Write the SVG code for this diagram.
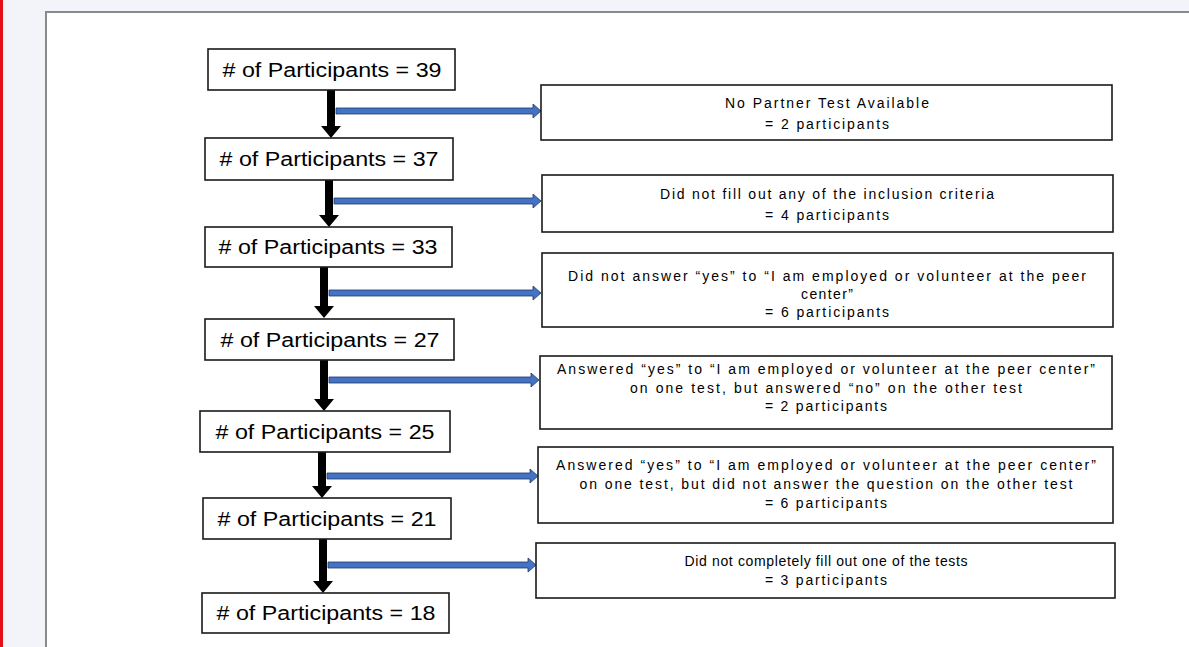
<svg xmlns="http://www.w3.org/2000/svg" width="1189" height="647" viewBox="0 0 1189 647">
<style>
.bg{fill:#f2f4f9}
.page{fill:#ffffff}
.box{fill:#ffffff;stroke:#1a1a1a;stroke-width:1.6}
.lt{font-family:"Liberation Sans",Arial,sans-serif;font-size:20px;fill:#000;text-anchor:middle}
.rt{font-family:"Liberation Sans",Arial,sans-serif;font-size:14px;fill:#000;text-anchor:middle}
.down{fill:#000}
.side{fill:#4472c4;stroke:#1f3864;stroke-width:0.8}
</style>
<rect class="bg" x="0" y="0" width="1189" height="647"/>
<rect x="0" y="0" width="3" height="647" fill="#e3101a"/>
<rect class="page" x="45" y="11" width="1144" height="636"/>
<path d="M46,647 V12 H1189" fill="none" stroke="#8a8a8a" stroke-width="2"/>

<g id="connectors">
  <g id="down-arrows">
    <polygon class="down" points="327,90 335,90 335,126 341,126 331,138 321,126 327,126"/>
    <polygon class="down" points="325,180 333,180 333,215 339,215 329,227 319,215 325,215"/>
    <polygon class="down" points="320,267 328,267 328,306 334,306 324,318 314,306 320,306"/>
    <polygon class="down" points="320,360 328,360 328,399 334,399 324,411 314,399 320,399"/>
    <polygon class="down" points="318,452 326,452 326,486 332,486 322,498 312,486 318,486"/>
    <polygon class="down" points="319,539 327,539 327,581 333,581 323,593 313,581 319,581"/>
  </g>
  <g id="side-arrows">
    <polygon class="side" points="336,108 533,108 533,104 541,111 533,118 533,114 336,114"/>
    <polygon class="side" points="334,198 533,198 533,194 541,201 533,208 533,204 334,204"/>
    <polygon class="side" points="329,290 533,290 533,286 541,293 533,300 533,296 329,296"/>
    <polygon class="side" points="329,377 531,377 531,373 539,380 531,387 531,383 329,383"/>
    <polygon class="side" points="327,473 530,473 530,469 538,476 530,483 530,479 327,479"/>
    <polygon class="side" points="328,562 528,562 528,558 536,565 528,572 528,568 328,568"/>
  </g>
</g>

<g id="n39"><rect class="box" x="208" y="49" width="247" height="41"/><text class="lt" x="332" y="77" textLength="219" lengthAdjust="spacingAndGlyphs"># of Participants = 39</text></g>
<g id="n37"><rect class="box" x="205" y="138" width="248" height="42"/><text class="lt" x="329" y="166" textLength="219" lengthAdjust="spacingAndGlyphs"># of Participants = 37</text></g>
<g id="n33"><rect class="box" x="205" y="227" width="247" height="40"/><text class="lt" x="328" y="254" textLength="219" lengthAdjust="spacingAndGlyphs"># of Participants = 33</text></g>
<g id="n27"><rect class="box" x="205" y="319" width="249" height="41"/><text class="lt" x="330" y="347" textLength="219" lengthAdjust="spacingAndGlyphs"># of Participants = 27</text></g>
<g id="n25"><rect class="box" x="200" y="411" width="250" height="41"/><text class="lt" x="325" y="439" textLength="219" lengthAdjust="spacingAndGlyphs"># of Participants = 25</text></g>
<g id="n21"><rect class="box" x="203" y="498" width="248" height="41"/><text class="lt" x="327" y="526" textLength="219" lengthAdjust="spacingAndGlyphs"># of Participants = 21</text></g>
<g id="n18"><rect class="box" x="202" y="593" width="247" height="40"/><text class="lt" x="326" y="620" textLength="219" lengthAdjust="spacingAndGlyphs"># of Participants = 18</text></g>

<g id="e1"><rect class="box" x="541" y="85" width="571" height="55"/>
  <text class="rt" x="827" y="108" textLength="204" lengthAdjust="spacing">No Partner Test Available</text>
  <text class="rt" x="827" y="129" textLength="124" lengthAdjust="spacing">= 2 participants</text></g>
<g id="e2"><rect class="box" x="542" y="175" width="571" height="57"/>
  <text class="rt" x="827" y="199" textLength="334" lengthAdjust="spacing">Did not fill out any of the inclusion criteria</text>
  <text class="rt" x="827" y="220" textLength="124" lengthAdjust="spacing">= 4 participants</text></g>
<g id="e3"><rect class="box" x="542" y="253" width="571" height="74"/>
  <text class="rt" x="827" y="281" textLength="518" lengthAdjust="spacing">Did not answer “yes” to “I am employed or volunteer at the peer</text>
  <text class="rt" x="827" y="299" textLength="52" lengthAdjust="spacing">center”</text>
  <text class="rt" x="827" y="317" textLength="124" lengthAdjust="spacing">= 6 participants</text></g>
<g id="e4"><rect class="box" x="540" y="356" width="572" height="73"/>
  <text class="rt" x="826" y="374" textLength="538" lengthAdjust="spacing">Answered “yes” to “I am employed or volunteer at the peer center”</text>
  <text class="rt" x="826" y="393" textLength="392" lengthAdjust="spacing">on one test, but answered “no” on the other test</text>
  <text class="rt" x="826" y="411" textLength="122" lengthAdjust="spacing">= 2 participants</text></g>
<g id="e5"><rect class="box" x="538" y="447" width="575" height="76"/>
  <text class="rt" x="826" y="470" textLength="540" lengthAdjust="spacing">Answered “yes” to “I am employed or volunteer at the peer center”</text>
  <text class="rt" x="826" y="489" textLength="493" lengthAdjust="spacing">on one test, but did not answer the question on the other test</text>
  <text class="rt" x="826" y="508" textLength="122" lengthAdjust="spacing">= 6 participants</text></g>
<g id="e6"><rect class="box" x="536" y="543" width="579" height="55"/>
  <text class="rt" x="826" y="566" textLength="283" lengthAdjust="spacing">Did not completely fill out one of the tests</text>
  <text class="rt" x="826" y="585" textLength="122" lengthAdjust="spacing">= 3 participants</text></g>
</svg>
